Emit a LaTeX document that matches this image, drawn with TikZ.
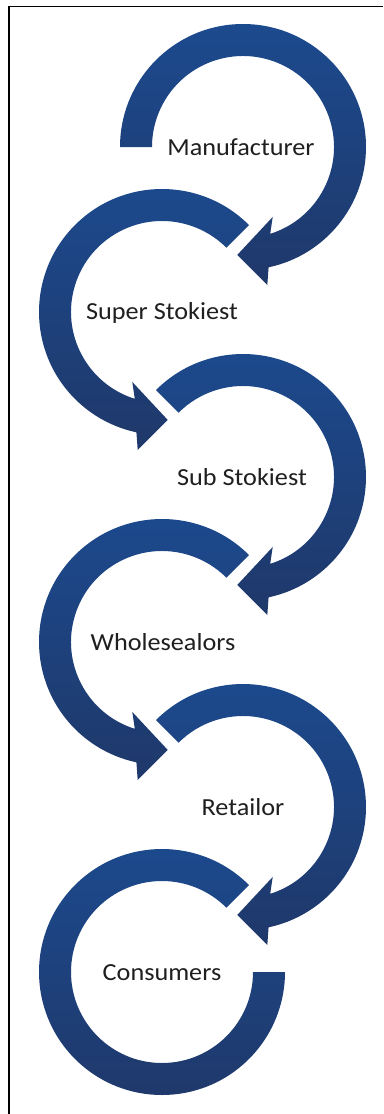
\documentclass[tikz,border=0pt]{standalone}
\usepackage{fontspec}
\setmainfont{Carlito}
\definecolor{ringtop}{RGB}{28,74,142}
\definecolor{ringbot}{RGB}{31,56,106}
\newcommand\cwring[3]{% center x, center y, start angle
  \begin{scope}[shift={(#1,#2)}]
    \path[ringfill] (#3:123pt) arc[start angle=#3, end angle=-78, radius=123pt]
      -- (-80:140pt) -- (-93:108pt) -- (-67:76pt) -- (-72.6:91pt)
      arc[start angle=-72.6, end angle=#3, radius=91pt] -- cycle;
  \end{scope}}
\newcommand\ccwring[3]{%
  \begin{scope}[shift={(#1,#2)}]
    \path[ringfill] (#3:123pt) arc[start angle=#3, end angle=258, radius=123pt]
      -- (260:140pt) -- (273:108pt) -- (247:76pt) -- (252.6:91pt)
      arc[start angle=252.6, end angle=#3, radius=91pt] -- cycle;
  \end{scope}}
\begin{document}
\begin{tikzpicture}[x=1pt,y=1pt,
  ringfill/.style={top color=ringtop, bottom color=ringbot},
  lbl/.style={anchor=base, inner sep=0pt, xscale=1.07,
    font=\fontsize{24.5}{28}\selectfont, text=black!88}]
\useasboundingbox (0,0) rectangle (383,-1114);
\fill[white] (0,0) rectangle (383,-1114);
% frame (top and left only visible)
\draw[line width=1.8pt] (9,-1114) -- (9,-6.5) -- (383,-6.5);
% rings
\cwring{243}{-147}{180}
\ccwring{162}{-312}{45}
\cwring{243}{-477}{135}
\ccwring{162}{-642}{45}
\cwring{243}{-807}{135}
\begin{scope}[shift={(162,-972)}]
  \path[ringfill] (45:123pt) arc[start angle=45, end angle=360, radius=123pt]
    -- (0:91pt) arc[start angle=360, end angle=45, radius=91pt] -- cycle;
\end{scope}
% labels
\node[lbl] (manu) at (241,-155) {Manufacturer};
\node[lbl] (super) at (162,-319) {Super Stokiest};
\node[lbl] (sub) at (242,-485) {Sub Stokiest};
\node[lbl] (whole) at (163,-650) {Wholesealors};
\node[lbl] (retail) at (243,-815) {Retailor};
\node[lbl] (cons) at (162,-980) {Consumers};
\end{tikzpicture}
\end{document}
